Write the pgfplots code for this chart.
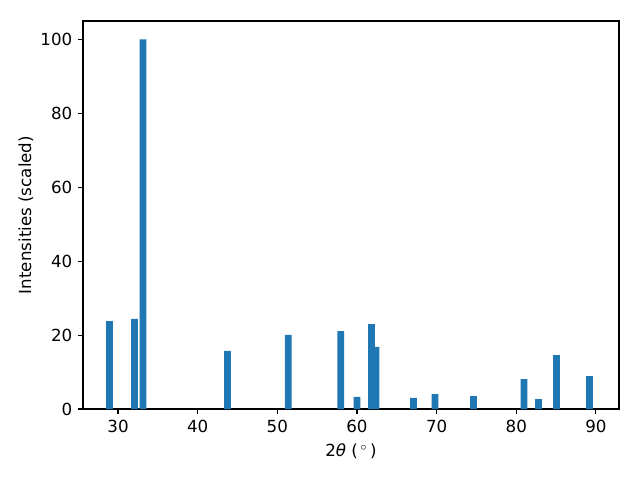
\documentclass[border=0pt]{standalone}
\usepackage{pgfplots}
\pgfplotsset{compat=1.18}
\usepackage{fontspec}
\setmainfont{DejaVu Sans}
\definecolor{mplblue}{HTML}{1F77B4}
\begin{document}
\fontsize{12}{14}\selectfont
\begin{tikzpicture}
\begin{axis}[
  at={(0,0)}, anchor=south west,
  scale only axis,
  width=385.92pt, height=279.36pt,
  xmin=25.6, xmax=92.9, ymin=0, ymax=105,
  xtick={30,40,50,60,70,80,90},
  ytick={0,20,40,60,80,100},
  tick align=outside, tick pos=left,
  major tick length=3.5pt,
  every tick/.style={black, line width=0.8pt},
  axis line style={line width=0.8pt},
  /pgf/number format/assume math mode=true,
  ticklabel style={font=\fontsize{12}{14}\selectfont},
  xlabel={2\textit{θ} (\,$^\circ$\,)},
  ylabel={Intensities (scaled)},
  xlabel style={font=\fontsize{12}{14}\selectfont, yshift=0pt},
  ylabel style={font=\fontsize{12}{14}\selectfont, yshift=-3pt},
]
\addplot[ybar, bar width=0.85, fill=mplblue, draw=none] coordinates {
(28.93,23.8) (32.07,24.4) (33.14,100) (43.74,15.7) (51.38,20.05)
(57.97,21.1) (60.0,3.25) (61.82,23.0) (62.4,16.8) (67.09,3.0)
(69.8,4.0) (74.64,3.5) (80.98,8.1) (82.8,2.7) (85.06,14.6) (89.2,8.9)
};
\end{axis}
\path[use as bounding box] (-59.76pt,-51.12pt) rectangle (401.04pt,294.48pt);
\end{tikzpicture}
\end{document}
